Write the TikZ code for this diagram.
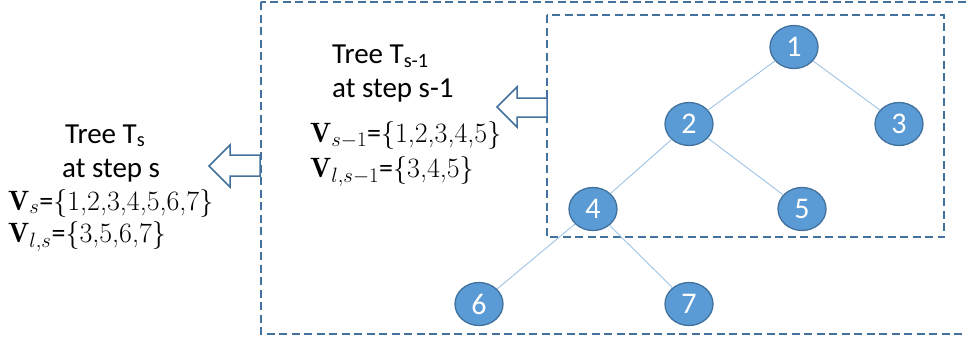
\documentclass[tikz,border=0pt]{standalone}
\usepackage{fontspec}
\newfontfamily\calib{Carlito}
\usetikzlibrary{shapes.geometric}
\definecolor{nodefill}{HTML}{5B9BD5}
\definecolor{nodeedge}{HTML}{41719C}
\definecolor{edgeblue}{HTML}{9DC3E6}
\begin{document}
\begin{tikzpicture}[x=1pt,y=-1pt,
  tnode/.style={ellipse,draw=nodeedge,line width=1.3pt,fill=nodefill,minimum width=48pt,minimum height=43pt,inner sep=0pt,text=white,font=\calib\fontsize{30}{32}\selectfont},
  edge/.style={draw=edgeblue,line width=0.9pt},
  dbox/.style={draw=nodeedge,line width=1.6pt,dash pattern=on 8pt off 4.5pt},
  barrow/.style={draw=nodeedge,line width=1.5pt,fill=white,line join=miter},
  ttext/.style={anchor=base west,inner sep=0pt,font=\calib\fontsize{29}{32}\selectfont},
  mtext/.style={anchor=base west,inner sep=0pt,font=\fontsize{28}{32}\selectfont}]
\useasboundingbox (0,0) rectangle (966,343);
% dashed boxes
\draw[dbox] (261,2) rectangle (975,334);
\draw[dbox] (547,15) rectangle (944,237);
% block arrows
\draw[barrow] (209,166) -- (230,145) -- (230,155) -- (260,155) -- (260,176) -- (230,176) -- (230,187) -- cycle;
\draw[barrow] (497,107) -- (517,87) -- (517,98) -- (547,98) -- (547,117) -- (517,117) -- (517,127) -- cycle;
% tree nodes
\node[tnode] (n1) at (794,47) {1};
\node[tnode] (n2) at (689,124) {2};
\node[tnode] (n3) at (899,124) {3};
\node[tnode] (n4) at (593,209) {4};
\node[tnode] (n5) at (802,209) {5};
\node[tnode] (n6) at (479,304) {6};
\node[tnode] (n7) at (689,304) {7};
\path[edge] (n1) -- (n2);
\path[edge] (n1) -- (n3);
\path[edge] (n2) -- (n4);
\path[edge] (n2) -- (n5);
\path[edge] (n4) -- (n6);
\path[edge] (n4) -- (n7);
% left texts
\node[ttext] (l1) at (65,143) {Tree T\textsubscript{s}};
\node[ttext] (l2) at (62,177) {at step s};
\node[mtext] (l3) at (8,210) {$\mathbf{V}_{s}${\calib =}\{1,2,3,4,5,6,7\}};
\node[mtext] (l4) at (8,242) {$\mathbf{V}_{l,s}${\calib =}\{3,5,6,7\}};
% middle texts
\node[ttext] (m1) at (332,63) {Tree T\textsubscript{s-1}};
\node[ttext] (m2) at (332,97) {at step s-1};
\node[mtext] (m3) at (310,142) {$\mathbf{V}_{s-1}${\calib =}\{1,2,3,4,5\}};
\node[mtext] (m4) at (310,177) {$\mathbf{V}_{l,s-1}${\calib =}\{3,4,5\}};
\end{tikzpicture}
\end{document}
